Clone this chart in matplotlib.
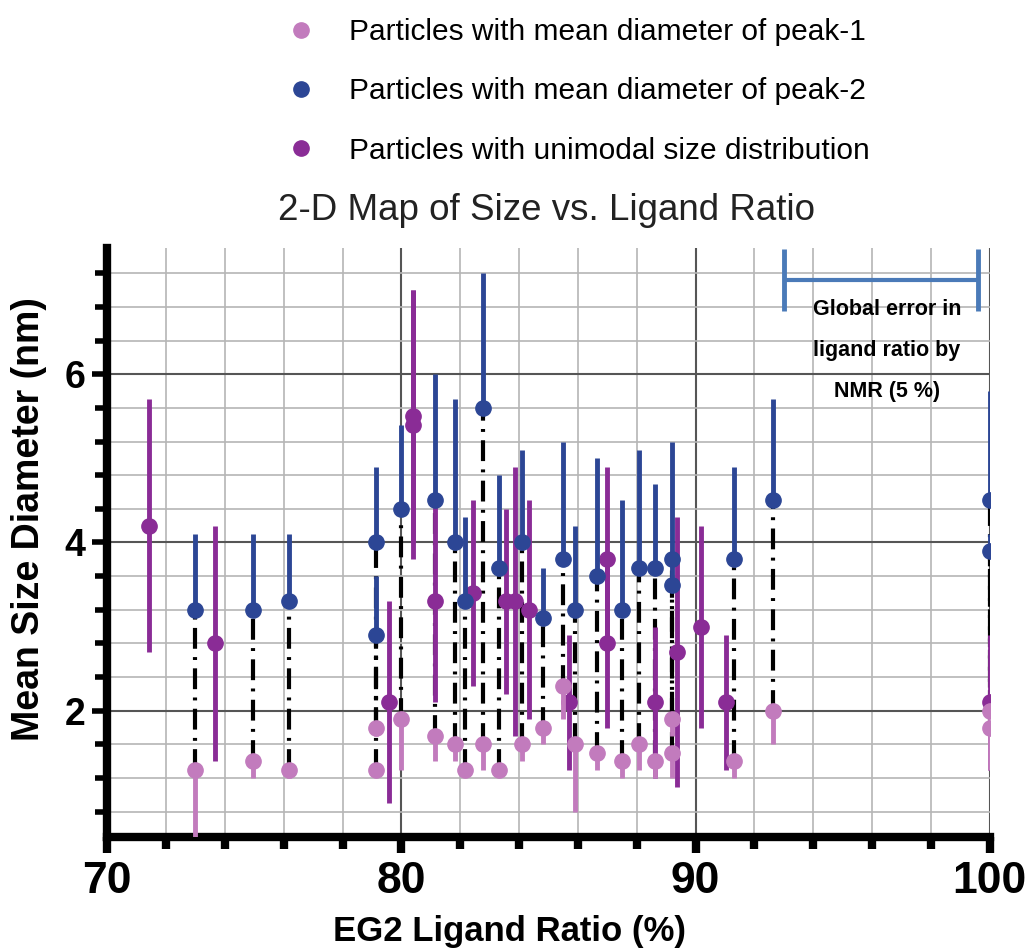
import matplotlib
matplotlib.use("Agg")
import matplotlib.pyplot as plt
from matplotlib.lines import Line2D
from matplotlib.ticker import MultipleLocator, FixedLocator
import numpy as np

# bimodal samples: peak-1 (small) and peak-2 (large) measured at the same ligand ratio
bi_ratio = [72.97, 74.97, 76.19, 79.15, 79.15, 80.0, 81.13, 81.81, 82.15, 82.77, 83.33, 84.1,
            84.83, 85.48, 85.9, 86.64, 87.49, 88.08, 88.62, 89.2, 89.2, 91.3, 92.63, 100.0, 100.0]
peak1_size = [1.3, 1.4, 1.3, 1.3, 1.8, 1.9, 1.7, 1.6, 1.3, 1.6, 1.3, 1.6,
              1.8, 2.3, 1.6, 1.5, 1.4, 1.6, 1.4, 1.5, 1.9, 1.4, 2.0, 1.8, 2.0]
peak1_err = [0.8, 0.2, 0.1, 0.05, 0.1, 0.6, 0.3, 0.2, 0.05, 0.3, 0.05, 0.2,
             0.2, 0.4, 0.8, 0.2, 0.2, 0.3, 0.2, 0.3, 0.2, 0.2, 0.4, 0.5, 0.2]
peak2_size = [3.2, 3.2, 3.3, 4.0, 2.9, 4.4, 4.5, 4.0, 3.3, 5.6, 3.7, 4.0,
              3.1, 3.8, 3.2, 3.6, 3.2, 3.7, 3.7, 3.8, 3.5, 3.8, 4.5, 4.5, 3.9]
peak2_err = [0.9, 0.9, 0.8, 0.9, 0.7, 1.0, 1.5, 1.7, 1.0, 1.6, 1.1, 1.1,
             0.6, 1.4, 1.0, 1.4, 1.3, 1.4, 1.0, 1.4, 0.3, 1.1, 1.2, 1.3, 0.2]

# unimodal samples
uni_ratio = [71.41, 73.67, 79.58, 80.4, 80.4, 81.13, 82.45, 83.56, 83.86, 84.35,
             85.71, 86.98, 86.98, 88.62, 89.38, 90.2, 91.04, 100.0]
uni_size = [4.2, 2.8, 2.1, 5.5, 5.4, 3.3, 3.4, 3.3, 3.3, 3.2,
            2.1, 3.8, 2.8, 2.1, 2.7, 3.0, 2.1, 2.1]
uni_err = [1.5, 1.4, 1.2, 1.5, 1.6, 1.2, 1.1, 1.1, 1.6, 1.3,
           0.8, 1.1, 1.0, 0.9, 1.6, 1.2, 0.8, 0.8]

legend_labels = ["Particles with mean diameter of peak-1",
                 "Particles with mean diameter of peak-2",
                 "Particles with unimodal size distribution"]
x_ticks = [70, 80, 90, 100]
y_ticks = [2, 4, 6]

# NMR global error marker (left end, right end, height)
nmr_span = [93.0, 99.6]
nmr_y = 7.12

PINK = "#c27bbd"
BLUE = "#2c4695"
PURPLE = "#8a2c96"

plt.rcParams['font.family'] = ['Liberation Sans', 'DejaVu Sans']

fig = plt.figure(figsize=(10.31, 9.52), dpi=100)
ax = fig.add_axes([0.104, 0.1208, 0.856, 0.6187])

# dash-dot connectors between the two peaks of a sample
ax.vlines(bi_ratio, peak1_size, peak2_size, colors='k',
          linestyles=(0, (5, 2, 0.7, 2)), lw=3, zorder=2)

zeros = np.zeros(len(bi_ratio))
ax.errorbar(uni_ratio, uni_size, yerr=uni_err, fmt='o', ms=11, color=PURPLE,
            elinewidth=3.5, capsize=0, zorder=3)
ax.errorbar(bi_ratio, peak1_size, yerr=[peak1_err, zeros], fmt='o', ms=11, color=PINK,
            elinewidth=3.5, capsize=0, zorder=4)
ax.errorbar(bi_ratio, peak2_size, yerr=[zeros, peak2_err], fmt='o', ms=11, color=BLUE,
            elinewidth=3.5, capsize=0, zorder=5)

# global error in ligand ratio
mid = (nmr_span[0] + nmr_span[1]) / 2
half = (nmr_span[1] - nmr_span[0]) / 2
ax.errorbar([mid], [nmr_y], xerr=[half], fmt='none', ecolor='#4a7ab8',
            elinewidth=3, capsize=22, capthick=3.5, clip_on=False, zorder=6)
ax.text(96.5, 6.28, "Global error in\nligand ratio by\nNMR (5 %)", ha='center', va='center',
        fontsize=15.5, fontweight='bold', linespacing=2.25, zorder=6)

ax.set_xlim(70, 100)
ax.set_ylim(0.5, 7.5)
ax.xaxis.set_major_locator(FixedLocator(x_ticks))
ax.xaxis.set_minor_locator(MultipleLocator(2))
ax.yaxis.set_major_locator(FixedLocator(y_ticks))
ax.yaxis.set_minor_locator(MultipleLocator(0.4))

for s in ['top', 'right']:
    ax.spines[s].set_visible(False)
for s in ['left', 'bottom']:
    ax.spines[s].set_linewidth(6)

ax.tick_params(axis='x', which='major', length=11.5, width=6, direction='out', labelsize=32, pad=6)
ax.tick_params(axis='x', which='minor', length=8.5, width=6, direction='out')
ax.tick_params(axis='y', which='major', length=11, width=4, direction='out', labelsize=27, pad=5)
ax.tick_params(axis='y', which='minor', length=9, width=4, direction='out')
for lbl in ax.get_xticklabels() + ax.get_yticklabels():
    lbl.set_fontweight('bold')

ax.grid(which='major', color='#555555', lw=1.5)
ax.grid(which='minor', color='#b5b5b5', lw=1.2)
ax.set_axisbelow(True)

ax.set_xlabel("EG2 Ligand Ratio (%)", fontsize=25, fontweight='bold')
ax.xaxis.set_label_coords(0.456, -0.132)
ax.set_ylabel("Mean Size Diameter (nm)", fontsize=27, fontweight='bold')
ax.yaxis.set_label_coords(-0.068, 0.54)

fig.text(0.53, 1 - 210 / 952, "2-D Map of Size vs. Ligand Ratio", ha='center', va='center',
         fontsize=26.5, color='#222222')

handles = [Line2D([], [], marker='o', ls='', color=c, ms=11) for c in (PINK, BLUE, PURPLE)]
fig.legend(handles, legend_labels, loc='upper left', bbox_to_anchor=(0.2687, 0.981),
           frameon=False, fontsize=21.5, handlelength=1.6, handletextpad=0.8,
           labelspacing=1.05, borderpad=0, borderaxespad=0)

fig.savefig("out.png", dpi=100)
